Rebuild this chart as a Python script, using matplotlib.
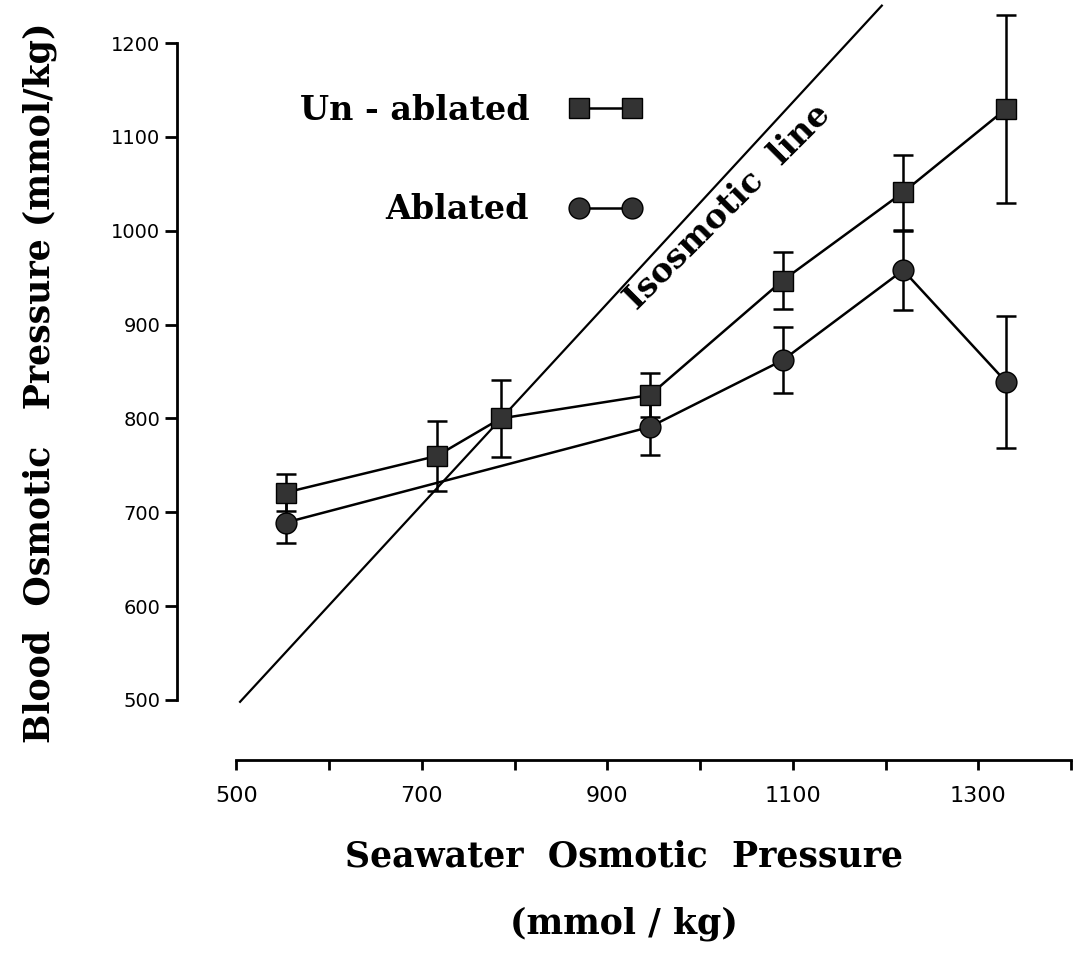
import numpy as np
import matplotlib
matplotlib.use("Agg")
import matplotlib.pyplot as plt

# Un-ablated group: seawater vs blood osmotic pressure (mmol/kg), mean +/- SE
unablated_x = [553, 716, 785, 946, 1089, 1219, 1330]
unablated_y = [721, 760, 800, 825, 947, 1041, 1130]
unablated_err = [20, 37, 41, 23, 30, 40, 100]

# Ablated group
ablated_x = [553, 946, 1089, 1219, 1330]
ablated_y = [689, 791, 862, 958, 839]
ablated_err = [22, 30, 35, 42, 70]

# isosmotic line as drawn on the figure
iso_x = [504, 1196]
iso_y = [498, 1240]

x_ticks = [500, 600, 700, 800, 900, 1000, 1100, 1200, 1300, 1400]
x_labels = ["500", "", "700", "", "900", "", "1100", "", "1300", ""]
y_ticks = [500, 600, 700, 800, 900, 1000, 1100, 1200]

serif = "DejaVu Serif"

fig = plt.figure(figsize=(10.84, 9.75), dpi=100)
ax = fig.add_axes([177 / 1084, 215 / 975, 894 / 1084, 760 / 975])

ax.plot(iso_x, iso_y, color="black", lw=1.6, clip_on=False)

sq = ax.errorbar(unablated_x, unablated_y, yerr=unablated_err, fmt="s-", color="black",
                 mfc="#333333", mec="black", ms=15, lw=1.8, elinewidth=1.8,
                 capsize=7, capthick=1.8, label="Un - ablated", clip_on=False, zorder=3)
ci = ax.errorbar(ablated_x, ablated_y, yerr=ablated_err, fmt="o-", color="black",
                 mfc="#333333", mec="black", ms=15, lw=1.8, elinewidth=1.8,
                 capsize=7, capthick=1.8, label="Ablated", clip_on=False, zorder=3)

ax.text(1030, 1026, "Isosmotic  line", rotation=45, rotation_mode="anchor",
        ha="center", va="center", family=serif, weight="bold", fontsize=24)

ax.set_xlim(436, 1400)
ax.set_ylim(436, 1246)
ax.spines["top"].set_visible(False)
ax.spines["right"].set_visible(False)
ax.spines["left"].set_bounds(500, 1200)
ax.spines["bottom"].set_bounds(500, 1400)
for s in ("left", "bottom"):
    ax.spines[s].set_linewidth(2)

ax.set_xticks(x_ticks)
ax.set_xticklabels(x_labels)
ax.set_yticks(y_ticks)
ax.tick_params(axis="x", length=7, width=2, labelsize=16, pad=12)
ax.tick_params(axis="y", length=9, width=2, labelsize=14, pad=3)

ax.set_ylabel("Blood  Osmotic   Pressure (mmol/kg)", family=serif, weight="bold",
              fontsize=25)
ax.yaxis.set_label_coords(-0.134, 0.496)
ax.set_xlabel("Seawater  Osmotic  Pressure\n(mmol / kg)", family=serif,
              weight="bold", fontsize=25, linespacing=2.2, labelpad=24)

ax.legend(handles=[sq[0], ci[0]], labels=["Un - ablated", "Ablated"],
          markerfirst=False, frameon=False, numpoints=2, handlelength=2.2,
          handletextpad=1.2, labelspacing=2.0, loc="center",
          bbox_to_anchor=(0.4345, 0.836), bbox_transform=fig.transFigure,
          prop={"family": serif, "weight": "bold", "size": 24})

fig.savefig("out.png", dpi=100)
